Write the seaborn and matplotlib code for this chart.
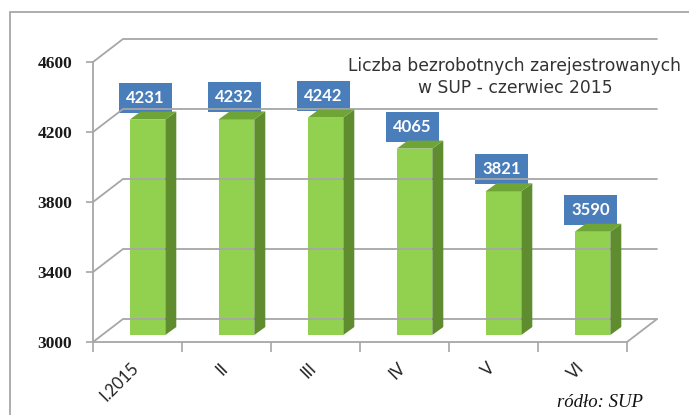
import numpy as np
import pandas as pd
import matplotlib
matplotlib.use("Agg")
import matplotlib.pyplot as plt
import matplotlib.transforms as mtransforms
from matplotlib.patches import Polygon, Rectangle
from matplotlib.lines import Line2D
import seaborn as sns

# ---- data ----
months = ["I.2015", "II", "III", "IV", "V", "VI"]
values = [4231, 4232, 4242, 4065, 3821, 3590]
y_ticks = [3000, 3400, 3800, 4200, 4600]
title_lines = ["Liczba bezrobotnych zarejestrowanych", "w SUP - czerwiec 2015"]
source_text = "ródło: SUP"

# ---- style ----
GREEN = "#92D050"
GREEN_SIDE = "#5E8C2F"
GREEN_TOP = "#6FA536"
BLUE = "#4A7EBB"
GRID = "#A6A6A6"
W, H = 689, 415
DPI = 100

sns.set_theme(style="white")
fig = plt.figure(figsize=(W / DPI, H / DPI), dpi=DPI)
fig.patch.set_facecolor("white")

# front plane axes
L, R, B, T = 93, 627, 342, 62
ax = fig.add_axes([L / W, (H - B) / H, (R - L) / W, (B - T) / H])
ax.set_facecolor("none")

df = pd.DataFrame({"month": months, "value": values})
base = y_ticks[0]
sns.barplot(data=df, x="month", y="value", color=GREEN, width=0.4,
            saturation=1, ax=ax, zorder=3)
ax.set_xlim(-0.5, len(months) - 0.5)
ax.set_ylim(y_ticks[0], y_ticks[-1])
ax.set_xlabel("")
ax.set_ylabel("")


def offset(dx, dy):
    return ax.transData + mtransforms.ScaledTranslation(dx / DPI, dy / DPI, fig.dpi_scale_trans)


BACK = np.array([30, 23])      # depth of the whole box
PLANE = np.array([10, 7])      # bar front plane
DEPTH = np.array([11, 8])      # bar depth

fig.canvas.draw()
to_disp = ax.transData.transform

# back wall gridlines + left wall diagonals
x0, x1 = ax.get_xlim()
for v in y_ticks:
    p0 = to_disp((x0, v))
    p1 = to_disp((x1, v))
    fig.add_artist(Line2D([p0[0], p0[0] + BACK[0], p1[0] + BACK[0]],
                          [p0[1], p0[1] + BACK[1], p1[1] + BACK[1]],
                          transform=None, color=GRID, lw=1.3, zorder=1))
# floor right diagonal
p1 = to_disp((x1, base))
fig.add_artist(Line2D([p1[0], p1[0] + BACK[0]], [p1[1], p1[1] + BACK[1]],
                      transform=None, color=GRID, lw=1.3, zorder=1))

# bars: set base, shift to bar plane, add side and top faces
bar_tr = offset(*PLANE)
for patch in ax.patches:
    h = patch.get_height()
    patch.set_y(base)
    patch.set_height(h - base)
    patch.set_transform(bar_tr)
    patch.set_clip_on(False)
    patch.set_edgecolor("none")
    bx0 = patch.get_x()
    bx1 = bx0 + patch.get_width()
    top = h
    a = to_disp((bx1, base)) + PLANE
    b = to_disp((bx1, top)) + PLANE
    c = to_disp((bx0, top)) + PLANE
    side = Polygon([a, b, b + DEPTH, a + DEPTH], closed=True, transform=None,
                   facecolor=GREEN_SIDE, edgecolor="none", zorder=2)
    topf = Polygon([c, b, b + DEPTH, c + DEPTH], closed=True, transform=None,
                   facecolor=GREEN_TOP, edgecolor="none", zorder=2)
    fig.add_artist(side)
    fig.add_artist(topf)

# value labels
lab_tr = offset(PLANE[0] - 2, PLANE[1] + 14)
for i, v in enumerate(values):
    ax.text(i, v, f"{v}", transform=lab_tr, ha="center", va="bottom",
            color="white", fontsize=12, fontweight="bold", family="Lato",
            zorder=6, clip_on=False,
            bbox=dict(boxstyle="square,pad=0.42", facecolor=BLUE, edgecolor="none"))

# spines and ticks
for s in ["top", "right"]:
    ax.spines[s].set_visible(False)
for s in ["left", "bottom"]:
    ax.spines[s].set_color(GRID)
    ax.spines[s].set_linewidth(1.3)
ax.set_yticks(y_ticks)
ax.set_yticklabels([str(t) for t in y_ticks], family="Liberation Serif",
                   fontweight="bold", fontsize=12.5, color="#1a1a1a")
ax.tick_params(axis="y", length=5, width=1.2, color=GRID, pad=10, left=True)
ax.set_xticks(range(len(months)))
ax.set_xticklabels(months, rotation=45, ha="right", rotation_mode="anchor",
                   family="Lato", fontsize=12, color="#222222")
ax.tick_params(axis="x", which="major", length=0, pad=13)
shift = mtransforms.ScaledTranslation(-7 / DPI, 0, fig.dpi_scale_trans)
for lbl in ax.get_xticklabels():
    lbl.set_transform(lbl.get_transform() + shift)
ax.set_xticks(np.arange(-0.5, len(months)), minor=True)
ax.tick_params(axis="x", which="minor", length=7, width=1.2, color=GRID, bottom=True)
ax.grid(False)

# title
fig.text(515 / W, (H - 71) / H, title_lines[0], ha="center", va="baseline",
         fontsize=12.3, color="#333333", family="DejaVu Sans")
fig.text(515 / W, (H - 93) / H, title_lines[1], ha="center", va="baseline",
         fontsize=12.3, color="#333333", family="DejaVu Sans")

# source
fig.text(643 / W, (H - 407) / H, source_text, ha="right", va="baseline",
         family="Liberation Serif", style="italic", fontsize=13.5, color="#111111")

# chart-area border
fig.add_artist(Rectangle((10 / W, -0.1), 1.2, (H - 12) / H + 0.1,
                         transform=fig.transFigure, fill=False,
                         edgecolor="#A0A0A0", lw=1.2, zorder=0))

fig.savefig("out.png", dpi=DPI)
